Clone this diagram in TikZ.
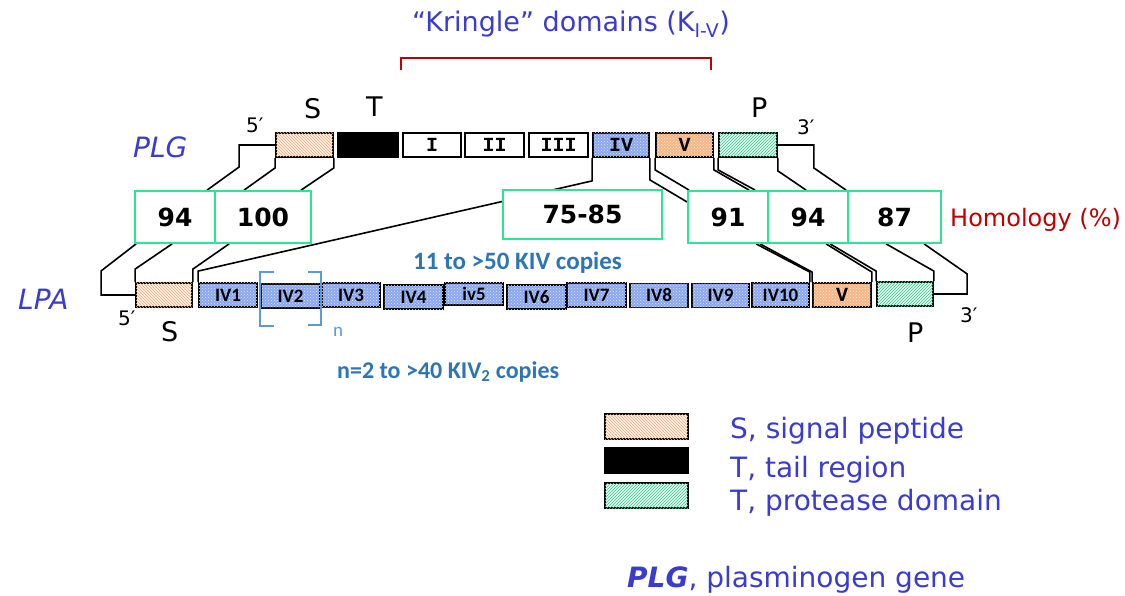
\documentclass[tikz,border=0pt]{standalone}
\usepackage{fontspec}
\setmainfont{DejaVu Sans}
\newfontfamily\cbri{Carlito}
\newfontfamily\cour{Liberation Mono}
\usetikzlibrary{patterns,backgrounds,calc}
\definecolor{Kc}{HTML}{3B3BCF}
\definecolor{Hc}{HTML}{C00000}
\definecolor{Gc}{HTML}{2EE596}
\definecolor{Bc}{HTML}{2E75B6}
\definecolor{Nc}{HTML}{5B9BD5}
\definecolor{Sfill}{HTML}{FFF3EA}
\definecolor{Sline}{HTML}{F0A878}
\definecolor{IVfill}{HTML}{8AA6EE}
\definecolor{IVdot}{HTML}{E4EAFB}
\definecolor{Vfill}{HTML}{F5B686}
\definecolor{Vdot}{HTML}{FDEBDC}
\definecolor{Pfill}{HTML}{E6FAF1}
\definecolor{Pline}{HTML}{36C890}
\newcommand{\fsz}[1]{\fontsize{#1}{#1}\selectfont}
\tikzset{
  gbox/.style={draw=black, line width=1.8pt, inner sep=0pt, minimum height=24},
  sdom/.style={gbox, fill=Sfill, postaction={pattern=north west lines, pattern color=Sline}},
  tdom/.style={gbox, fill=black},
  kdom/.style={gbox, fill=white, font=\cour\bfseries\fsz{20}},
  ivdom/.style={gbox, fill=IVfill, postaction={pattern=crosshatch dots, pattern color=IVdot}, font=\cbri\bfseries\fsz{19}},
  vdom/.style={gbox, fill=Vfill, postaction={pattern=crosshatch dots, pattern color=Vdot}, font=\cour\bfseries\fsz{20}},
  pdom/.style={gbox, fill=Pfill, postaction={pattern=north east lines, pattern color=Pline}},
  hbox/.style={draw=Gc, line width=1.8pt, fill=white, inner sep=0pt, minimum height=52, font=\bfseries\fsz{25}},
  wire/.style={black, line width=1.6pt},
  tag/.style={anchor=base west, inner sep=0pt, font=\fsz{20}},
  letter/.style={anchor=base west, inner sep=0pt, font=\fsz{27}},
  legend/.style={anchor=base west, inner sep=0pt, text=Kc, font=\fsz{28}},
}

\begin{document}
\begin{tikzpicture}[x=1pt, y=-1pt]
  \useasboundingbox (0,0) rectangle (1125,596);
  % PLG gene
  \node[sdom, minimum width=57] (plgS) at (304.5,145) {};
  \node[tdom, minimum width=60] (plgT) at (368,145) {};
  \node[kdom, minimum width=58] (plgI) at (432,145) {I};
  \node[kdom, minimum width=59] (plgII) at (494.5,145) {II};
  \node[kdom, minimum width=59] (plgIII) at (558.5,145) {III};
  \node[ivdom, font=\cour\bfseries\fsz{20}, minimum width=56] (plgIV) at (621,145) {IV};
  \node[vdom, minimum width=57] (plgV) at (684.5,145) {V};
  \node[pdom, minimum width=58] (plgP) at (748,145) {};
  % homology boxes
  \node[hbox, minimum width=80] (hA) at (175,217) {94};
  \node[hbox, minimum width=96] (hB) at (263,217) {100};
  \node[hbox, minimum width=159, minimum height=49] (hC) at (582.5,214.5) {75-85};
  \node[hbox, minimum width=80] (hD) at (728,217) {91};
  \node[hbox, minimum width=80] (hE) at (808,217) {94};
  \node[hbox, minimum width=93] (hF) at (894.5,217) {87};
  % LPA gene
  \node[sdom, minimum width=56] (lpaS) at (164,295) {};
  \node[ivdom, minimum width=58] (lpaIVa) at (228,295) {IV1};
  \node[ivdom, minimum width=59] (lpaIVb) at (290.5,296) {IV2};
  \node[ivdom, minimum width=58] (lpaIVc) at (351,295) {IV3};
  \node[ivdom, minimum width=59] (lpaIVd) at (413.5,297) {IV4};
  \node[ivdom, minimum width=58, minimum height=22] (lpaIVe) at (474,294) {iv5};
  \node[ivdom, minimum width=59] (lpaIVf) at (536.5,297) {IV6};
  \node[ivdom, minimum width=59] (lpaIVg) at (596.5,295) {IV7};
  \node[ivdom, minimum width=58] (lpaIVh) at (659,295.5) {IV8};
  \node[ivdom, minimum width=57] (lpaIVi) at (720.5,295.5) {IV9};
  \node[ivdom, minimum width=57] (lpaIVj) at (780.5,295) {IV10};
  \node[vdom, minimum width=58] (lpaV) at (842,295) {V};
  \node[pdom, minimum width=56] (lpaP) at (905,294) {};
  % connectors
  \begin{scope}[on background layer]
    \fill[white] (0,0) rectangle (1125,596);
    \draw[wire] (plgS.west) -- ++(-36,0) -- ++(0,22) -- ($(hA.north west)+(73,0)$);
    \draw[wire] (plgS.south west) -- ++(0,10) -- ($(hB.north west)+(30,0)$);
    \draw[wire] (plgS.south east) -- ++(0,10) -- ($(hB.north west)+(87,0)$);
    \draw[wire] (plgIV.south west) -- ++(0,23) -- ($(lpaIVa.north west)+(0,-11)$) -- (lpaIVa.north west);
    \draw[wire] (plgIV.south east) -- ++(0,22) -- ($(hD.west)+(0,-15)$);
    \draw[wire] (plgV.south west) -- ++(0,12) -- ($(hD.north west)+(2,0)$);
    \draw[wire] (plgV.south east) -- ++(0,12) -- ($(hD.north west)+(62,0)$);
    \draw[wire] (plgP.south west) -- ++(0,12) -- ($(hD.north west)+(68,0)$);
    \draw[wire] (plgP.south east) -- ++(0,13) -- ($(hE.north west)+(39,0)$);
    \draw[wire] (plgP.east) -- ++(36,0) -- ++(0,23) -- ($(hF.north west)+(-1,0)$);
    \draw[wire] ($(hA.south west)+(2,0)$) -- ++(-35,27) |- (lpaS.west);
    \draw[wire] ($(hA.south west)+(38,0)$) -- ($(lpaS.north west)+(0,-13)$) -- (lpaS.north west);
    \draw[wire] ($(hB.south west)+(15,0)$) -- ($(lpaS.north east)+(0,-13)$) -- (lpaS.north east);
    \draw[wire] ($(hD.south west)+(69,0)$) -- ($(lpaIVj.north east)+(0,-10)$) -- (lpaIVj.north east);
    \draw[wire] ($(hD.south west)+(73,0)$) -- ($(lpaV.north west)+(0,-10)$) -- (lpaV.north west);
    \draw[wire] ($(hE.south west)+(59,0)$) -- ($(lpaV.north east)+(0,-10)$) -- (lpaV.north east);
    \draw[wire] ($(hE.south west)+(63,0)$) -- ($(lpaP.north west)+(0,-10)$) -- (lpaP.north west);
    \draw[wire] ($(hF.south west)+(39,0)$) -- ($(lpaP.north east)+(0,-10)$) -- (lpaP.north east);
    \draw[wire] ($(hF.south west)+(77,0)$) -- ++(43,30) |- (lpaP.east);
  \end{scope}
  % kringle bracket
  \node[anchor=base west, inner sep=0pt, text=Kc, font=\fsz{27}] (kring) at (412,32) {“Kringle” domains (K\textsubscript{I-V})};
  \draw[Hc, line width=1.5pt] (401,70) -- (401,58) -- (711,58) -- (711,70);
  % end labels
  \node[anchor=base west, inner sep=0pt, text=Kc, font=\itshape\fsz{28}] (plgName) at (133,158) {PLG};
  \node[anchor=base west, inner sep=0pt, text=Kc, font=\itshape\fsz{28}] (lpaName) at (18,309) {LPA};
  \node[tag] (plgFive) at (246,133) {5′};
  \node[letter] (plgSl) at (304,119) {S};
  \node[letter] (plgTl) at (366,117) {T};
  \node[letter] (plgPl) at (751,118) {P};
  \node[tag] (plgThree) at (797,135) {3′};
  \node[tag] (lpaFive) at (118,325) {5′};
  \node[letter] (lpaSl) at (161,341) {S};
  \node[letter] (lpaPl) at (907,342) {P};
  \node[tag] (lpaThree) at (960,323) {3′};
  \node[anchor=base west, inner sep=0pt, text=Hc, font=\fsz{24}] (homol) at (950,227) {Homology (\%)};
  % KIV copies
  \node[anchor=base west, inner sep=0pt, text=Bc, font=\cbri\bfseries\fsz{25}] (copies) at (413,270) {11 to >50 KIV copies};
  \draw[Nc, line width=1.3pt] (274,272) -- (260,272) -- (260,326) -- (274,326);
  \draw[Nc, line width=1.3pt] (308,272) -- (321,272) -- (321,325) -- (308,325);
  \node[anchor=base west, inner sep=0pt, text=Nc, font=\cbri\fsz{19}] (nrep) at (333,336) {n};
  \node[anchor=base west, inner sep=0pt, text=Bc, font=\cbri\bfseries\fsz{24}] (kivtwo) at (337,378) {n=2 to >40 KIV\textsubscript{2} copies};
  % legend
  \node[sdom, minimum width=83, minimum height=25] (keyS) at (646.5,426.5) {};
  \node[tdom, minimum width=83, minimum height=25] (keyT) at (646.5,460.5) {};
  \node[pdom, minimum width=83, minimum height=25] (keyP) at (646.5,495.5) {};
  \node[legend] (keySt) at (730,438) {S, signal peptide};
  \node[legend] (keyTt) at (730,477) {T, tail region};
  \node[legend] (keyPt) at (730,510) {T, protease domain};
  \node[legend] (plgKey) at (627,587) {\textbf{\textit{PLG}}, plasminogen gene};
\end{tikzpicture}
\end{document}
